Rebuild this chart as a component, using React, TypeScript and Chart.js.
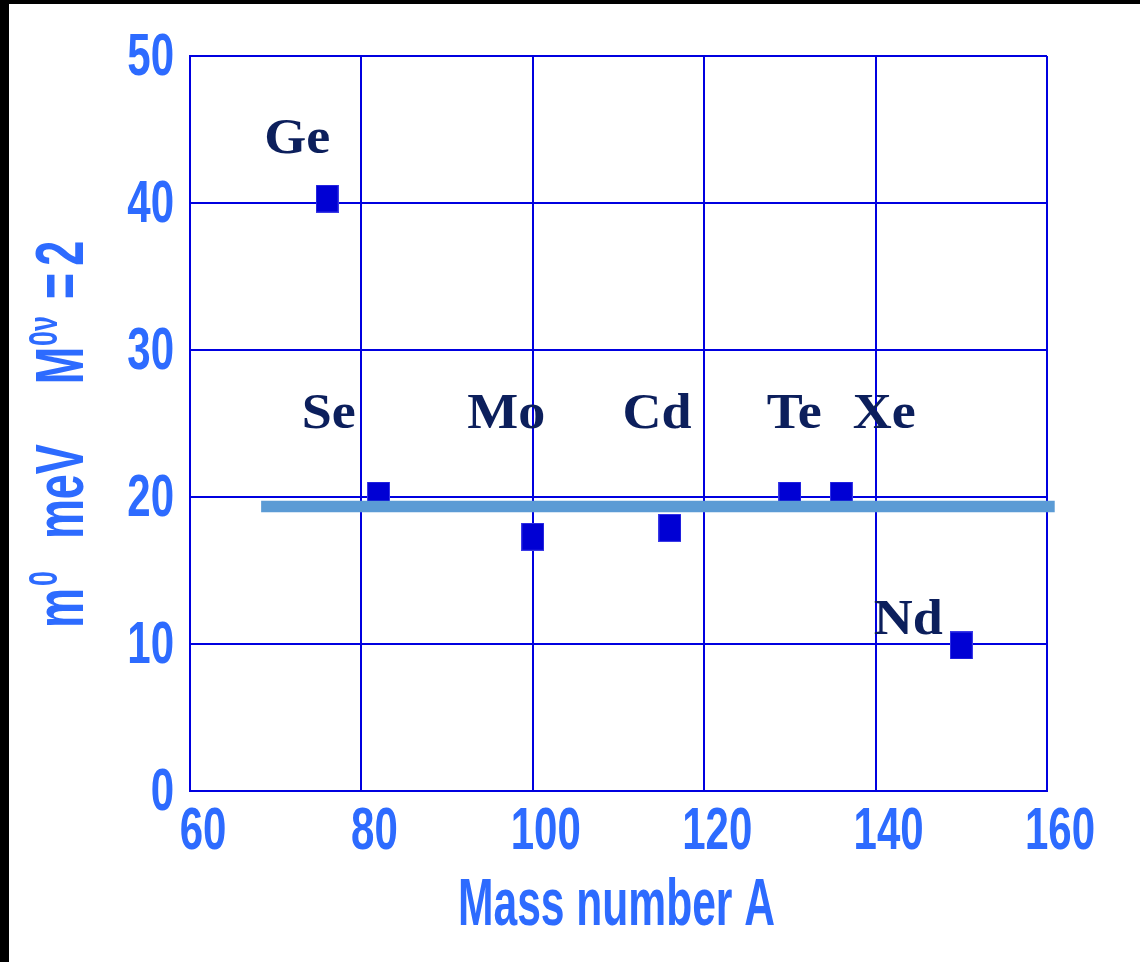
import React, { useEffect, useRef } from "react";
import { Chart, registerables } from "chart.js";

Chart.register(...registerables);

// Effective neutrino mass m0 (meV) for M(0ν)=2, by double-beta nucleus
const nuclei = ["Ge", "Se", "Mo", "Cd", "Te", "Xe", "Nd"];
const massNumbers = [76, 82, 100, 116, 130, 136, 150];
const massLimits = [40.3, 20.1, 17.3, 17.9, 20.1, 20.1, 9.9];

// Name anchors in data units (A, meV at the text baseline)
const nameA = [72.5, 76.2, 96.9, 114.5, 130.5, 141.0, 143.8];
const nameM = [43.4, 24.7, 24.7, 24.7, 24.7, 24.7, 10.7];

// Common reference level
const refLineA = [68.3, 160.9];
const refLineM = [19.35, 19.35];

const xTicks = [60, 80, 100, 120, 140, 160];
const yTicks = [0, 10, 20, 30, 40, 50];

const GRID = "#0000e0";
const AXIS_TEXT = "#2d6bff";
const NAME_TEXT = "#0c1f5c";
const SANS = '"Liberation Sans", Arial, sans-serif';
const SERIF = '"Liberation Serif", "Times New Roman", serif';

function makeMarker(): HTMLCanvasElement {
  const c = document.createElement("canvas");
  c.width = 23;
  c.height = 28;
  const g = c.getContext("2d")!;
  g.fillStyle = "#3a3ae6";
  g.fillRect(0, 0, 23, 28);
  g.fillStyle = "#0000d4";
  g.fillRect(1, 1, 21, 26);
  return c;
}

function squeezeText(
  ctx: CanvasRenderingContext2D,
  text: string,
  x: number,
  y: number,
  sx: number,
  align: CanvasTextAlign
) {
  ctx.save();
  ctx.translate(x, y);
  ctx.scale(sx, 1);
  ctx.textAlign = align;
  ctx.textBaseline = "alphabetic";
  ctx.fillText(text, 0, 0);
  ctx.restore();
}

const framePlugin = {
  id: "frame",
  beforeDraw(chart: Chart) {
    const { ctx, width, height } = chart;
    ctx.save();
    ctx.fillStyle = "#000000";
    ctx.fillRect(0, 0, width, height);
    ctx.fillStyle = "#ffffff";
    ctx.fillRect(9, 4, width - 9, height - 4);
    ctx.restore();
  },
};

const labelsPlugin = {
  id: "labels",
  afterDraw(chart: Chart) {
    const { ctx, chartArea } = chart;
    const xs = chart.scales.x;
    const ys = chart.scales.y;
    ctx.save();

    // tick labels
    ctx.fillStyle = AXIS_TEXT;
    ctx.font = `bold 60px ${SANS}`;
    xs.ticks.forEach((t) => {
      squeezeText(ctx, String(t.value), xs.getPixelForValue(t.value) + 13, chartArea.bottom + 58, 0.7, "center");
    });
    ys.ticks.forEach((t) => {
      squeezeText(ctx, String(t.value), chartArea.left - 16, ys.getPixelForValue(t.value) + 19, 0.7, "right");
    });

    // x title
    ctx.font = `bold 67px ${SANS}`;
    const xTitle = "Mass number A";
    const wx = ctx.measureText(xTitle).width;
    squeezeText(ctx, xTitle, (chartArea.left + chartArea.right) / 2 - 2, chartArea.bottom + 134, 317 / wx, "center");

    // y title, rotated, with superscripts
    const size = 68;
    const sup = size * 0.6;
    const sx = 0.66;
    const pieces: { t: string; s: boolean; gap: number }[] = [
      { t: "m", s: false, gap: 0 },
      { t: "0", s: true, gap: 2 },
      { t: "meV", s: false, gap: 32 },
      { t: "M", s: false, gap: 60 },
      { t: "0ν", s: true, gap: 1 },
      { t: "=", s: false, gap: 17 },
      { t: "2", s: false, gap: 7 },
    ];
    ctx.translate(83, 628);
    ctx.rotate(-Math.PI / 2);
    let pos = 0;
    pieces.forEach((p) => {
      ctx.font = `bold ${p.s ? sup : size}px ${SANS}`;
      pos += p.gap;
      const w = ctx.measureText(p.t).width * sx;
      squeezeText(ctx, p.t, pos, p.s ? -26 : 0, sx, "left");
      pos += w;
    });
    ctx.restore();

    // nucleus names
    ctx.save();
    ctx.fillStyle = NAME_TEXT;
    ctx.font = `bold 50px ${SERIF}`;
    nuclei.forEach((n, i) => {
      squeezeText(ctx, n, xs.getPixelForValue(nameA[i]), ys.getPixelForValue(nameM[i]), 1.08, "center");
    });
    ctx.restore();
  },
};

export default function App() {
  const ref = useRef<HTMLCanvasElement | null>(null);

  useEffect(() => {
    if (!ref.current) return;
    const marker = makeMarker();
    const chart = new Chart(ref.current, {
      type: "scatter",
      data: {
        datasets: [
          {
            label: "reference",
            data: refLineA.map((a, i) => ({ x: a, y: refLineM[i] })),
            showLine: true,
            borderColor: "#5b9bd5",
            borderWidth: 11.5,
            borderCapStyle: "butt",
            pointRadius: 0,
            clip: false,
            order: 0,
          },
          {
            label: "m0",
            data: massNumbers.map((a, i) => ({ x: a, y: massLimits[i] })),
            pointStyle: marker,
            pointRadius: 12,
            backgroundColor: "#0000d4",
            borderColor: "#0000d4",
            order: 1,
          },
        ],
      },
      options: {
        responsive: false,
        animation: false,
        devicePixelRatio: 1,
        events: [],
        layout: { padding: { top: 56, right: 93, left: 0, bottom: 0 } },
        plugins: {
          legend: { display: false },
          tooltip: { enabled: false },
        },
        scales: {
          x: {
            type: "linear",
            min: 60,
            max: 160,
            afterBuildTicks: (s: any) => {
              s.ticks = xTicks.map((v) => ({ value: v }));
            },
            afterFit: (s: any) => {
              s.height = 171;
            },
            ticks: { display: false },
            grid: { color: GRID, lineWidth: 2, drawTicks: false },
            border: { display: true, color: GRID, width: 2 },
          },
          y: {
            type: "linear",
            min: 0,
            max: 50,
            afterBuildTicks: (s: any) => {
              s.ticks = yTicks.map((v) => ({ value: v }));
            },
            afterFit: (s: any) => {
              s.width = 190;
            },
            ticks: { display: false },
            grid: { color: GRID, lineWidth: 2, drawTicks: false },
            border: { display: true, color: GRID, width: 2 },
          },
        },
      },
      plugins: [framePlugin, labelsPlugin],
    } as any);
    return () => chart.destroy();
  }, []);

  return (
    <div style={{ position: "fixed", left: 0, top: 0, width: 1140, height: 962 }}>
      <canvas ref={ref} width={1140} height={962} />
    </div>
  );
}
